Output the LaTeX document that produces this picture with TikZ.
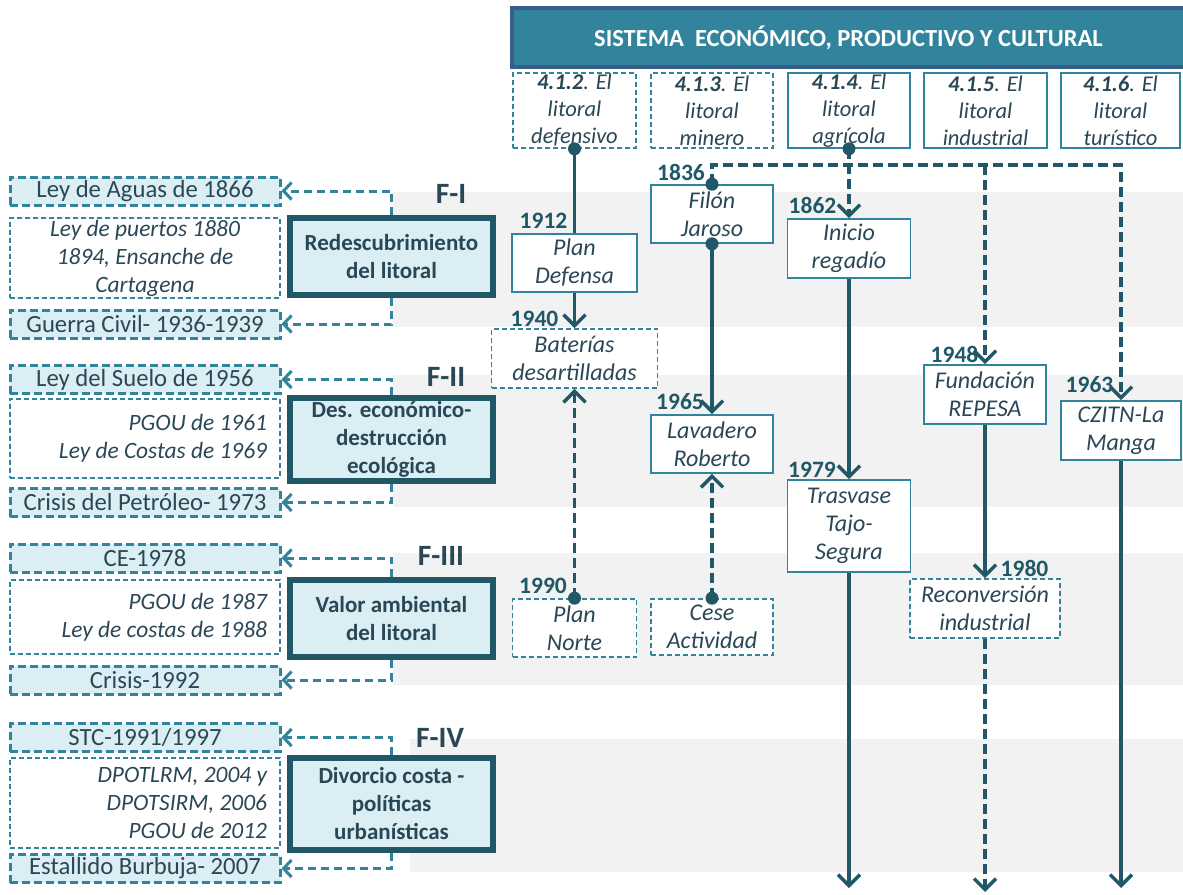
\documentclass[tikz,border=0pt]{standalone}
\usepackage{fontspec}
\setmainfont{Carlito}
\usetikzlibrary{arrows.meta}
\definecolor{tealA}{HTML}{31849B}
\definecolor{deep}{HTML}{215868}
\definecolor{pale}{HTML}{DAEEF3}
\definecolor{band}{HTML}{F2F2F2}
\definecolor{ink}{HTML}{2A4756}
\definecolor{hdrline}{HTML}{385D8A}
\tikzset{
  box/.style={draw=tealA, line width=1.6pt, fill=white, inner sep=0pt, align=center,
    text=ink, font=\fontsize{24}{28}\selectfont\itshape},
  dbox/.style={box, dash pattern=on 5pt off 3pt},
  colbox/.style={box, font=\fontsize{22.5}{27}\selectfont\itshape},
  dcolbox/.style={colbox, dash pattern=on 5pt off 3pt},
  lawbox/.style={draw=tealA, fill=pale, line width=3pt, dash pattern=on 8pt off 4pt,
    inner sep=0pt, minimum width=270pt, minimum height=28pt, text=ink,
    font=\fontsize{24.7}{28}\selectfont},
  notebox/.style={draw=tealA, line width=1.5pt, dash pattern=on 5pt off 3pt, fill=white,
    inner ysep=0pt, minimum width=270pt, text=ink, font=\fontsize{23.4}{28}\selectfont\itshape},
  phase/.style={draw=deep, fill=pale, line width=5.5pt, inner sep=0pt, minimum width=203pt,
    align=center, text=ink, font=\fontsize{23}{28}\selectfont\bfseries},
  flabel/.style={inner sep=0pt, text=ink, font=\fontsize{29.5}{29.5}\selectfont\bfseries},
  year/.style={inner sep=0pt, text=deep, font=\fontsize{23.5}{23.5}\selectfont\bfseries},
  solidlink/.style={draw=deep, line width=3.5pt, -{Straight Barb[length=11pt,width=22pt]}},
  plainlink/.style={draw=deep, line width=3.5pt},
  dashlink/.style={solidlink, dash pattern=on 10pt off 5pt},
  leftlink/.style={draw=tealA, line width=3pt, dash pattern=on 8pt off 5pt,
    -{Straight Barb[length=8pt,width=17pt]}},
  dot/.style={fill=deep}
}
\begin{document}
\begin{tikzpicture}[x=1pt,y=-1pt]
\useasboundingbox (0,0) rectangle (1183,894);
\fill[white] (0,0) rectangle (1183,894);

% alternating phase bands
\fill[band] (393,192) rectangle (1183,327);
\fill[band] (393,375) rectangle (1183,507);
\fill[band] (393,553) rectangle (1183,685);
\fill[band] (410,739) rectangle (1183,872);

% header
\node[draw=hdrline, fill=tealA, line width=4pt, minimum width=690pt, minimum height=59pt,
  inner sep=0pt, text=white, font=\fontsize{24.5}{24.5}\selectfont\bfseries]
  (header) at (857,37.5) {\hspace*{-17pt}SISTEMA\ \ ECONÓMICO, PRODUCTIVO Y CULTURAL};

% sub-system columns
\node[dcolbox, minimum width=123pt, minimum height=75pt] (c2) at (574.5,110.5)
  {\textbf{4.1.2}. El\\litoral\\defensivo};
\node[dcolbox, minimum width=122pt, minimum height=75pt] (c3) at (712,110.5)
  {\textbf{4.1.3}. El\\litoral\\minero};
\node[colbox, minimum width=122pt, minimum height=75pt] (c4) at (849,110.5)
  {\textbf{4.1.4}. El\\litoral\\agrícola};
\node[colbox, minimum width=123pt, minimum height=75pt] (c5) at (985.5,110.5)
  {\textbf{4.1.5}. El\\litoral\\industrial};
\node[colbox, minimum width=119pt, minimum height=75pt] (c6) at (1120.5,110.5)
  {\textbf{4.1.6}. El\\litoral\\turístico};

% phase F-I
\node[lawbox] (aguas) at (145,191) {Ley de Aguas de 1866};
\node[notebox, minimum height=80pt, align=center] (n1) at (145,258)
  {Ley de puertos 1880\\1894, Ensanche de\\Cartagena};
\node[lawbox] (guerra) at (145,324) {Guerra Civil- 1936-1939};
\node[phase, minimum height=77pt] (p1) at (391.5,256.5) {Redescubrimiento\\del litoral};
\node[flabel] (f1) at (451,194) {F-I};
\draw[leftlink] (p1.north) |- (aguas.east);
\draw[leftlink] (p1.south) |- (guerra.east);

% phase F-II
\node[lawbox] (suelo) at (145,379.5) {Ley del Suelo de 1956};
\node[notebox, minimum height=79pt, inner xsep=13pt, text width=244pt, align=flush right] (n2)
  at (145,438.5) {PGOU de 1961\\Ley de Costas de 1969};
\node[lawbox] (petroleo) at (145,502.5) {Crisis del Petróleo- 1973};
\node[phase, minimum height=83pt] (p2) at (391.5,439.5) {Des. económico-\\destrucción\\ecológica};
\node[flabel] (f2) at (446,377) {F-II};
\draw[leftlink] (p2.north) |- (suelo.east);
\draw[leftlink] (p2.south) |- (petroleo.east);

% phase F-III
\node[lawbox] (ce) at (145,558) {CE-1978};
\node[notebox, minimum height=74pt, inner xsep=13pt, text width=244pt, align=flush right] (n3)
  at (145,617) {PGOU de 1987\\Ley de costas de 1988};
\node[lawbox] (crisis) at (145,680) {Crisis-1992};
\node[phase, minimum height=77pt] (p3) at (391.5,618.5) {Valor ambiental\\del litoral};
\node[flabel] (f3) at (441,556) {F-III};
\draw[leftlink] (p3.north) |- (ce.east);
\draw[leftlink] (p3.south) |- (crisis.east);

% phase F-IV
\node[lawbox] (stc) at (145,737.5) {STC-1991/1997};
\node[notebox, minimum height=90pt, inner xsep=13pt, text width=244pt, align=flush right] (n4)
  at (145,803) {DPOTLRM, 2004 y\\DPOTSIRM, 2006\\PGOU de 2012};
\node[lawbox] (burbuja) at (145,868.5) {Estallido Burbuja- 2007};
\node[phase, minimum height=92pt] (p4) at (391.5,804) {Divorcio costa -\\políticas\\urbanísticas};
\node[flabel] (f4) at (440,737.5) {F-IV};
\draw[leftlink] (p4.north) |- (stc.east);
\draw[leftlink] (p4.south) |- (burbuja.east);

% events
\node[box, minimum width=125pt, minimum height=58pt] (defensa) at (574.5,263) {Plan\\Defensa};
\node[dbox, minimum width=166pt, minimum height=59pt] (baterias) at (574.5,358.5) {Baterías\\desartilladas};
\node[dbox, minimum width=124pt, minimum height=58pt] (norte) at (574.5,628) {Plan\\Norte};
\node[box, minimum width=122pt, minimum height=58pt] (filon) at (712,214) {Filón\\Jaroso};
\node[box, minimum width=122pt, minimum height=58pt] (lavadero) at (712,444) {Lavadero\\Roberto};
\node[dbox, minimum width=122pt, minimum height=56pt] (cese) at (712,627) {Cese\\Actividad};
\node[box, minimum width=123pt, minimum height=59pt] (regadio) at (849,248.5) {Inicio\\regadío};
\node[box, minimum width=123pt, minimum height=92pt] (trasvase) at (849,526) {Trasvase\\Tajo-\\Segura};
\node[box, minimum width=122pt, minimum height=59pt] (repesa) at (985,394.5) {Fundación\\REPESA};
\node[dbox, minimum width=150pt, minimum height=59pt] (reconv) at (985,608.5) {Reconversión\\industrial};
\node[box, minimum width=120pt, minimum height=59pt] (czitn) at (1121,430.5) {CZITN-La\\Manga};

% years
\node[year] (y1912) at (543.5,221) {1912};
\node[year] (y1940) at (534.5,318.5) {1940};
\node[year] (y1990) at (543,585.5) {1990};
\node[year] (y1836) at (681,172) {1836};
\node[year] (y1965) at (680,402) {1965};
\node[year] (y1862) at (812.5,205.5) {1862};
\node[year] (y1979) at (812,469.5) {1979};
\node[year] (y1948) at (954.5,354.5) {1948};
\node[year] (y1980) at (1024.5,568.5) {1980};
\node[year] (y1963) at (1089.5,384.5) {1963};

% links between events
\coordinate (rail) at (0,165);
\coordinate (endA) at (849,888);
\coordinate (endB) at (985,892);
\coordinate (endC) at (1121,888);

\draw[plainlink] (c2.south) -- (defensa.north);
\draw[solidlink] (defensa.south) -- (baterias.north);
\draw[dashlink] (norte.north) -- (baterias.south);

\draw[dashlink] (filon.north) -- (filon.north |- rail) -- (czitn.north |- rail) -- (czitn.north);
\draw[dashlink] (repesa.north |- rail) -- (repesa.north);
\draw[solidlink] (filon.south) -- (lavadero.north);
\draw[dashlink] (cese.north) -- (lavadero.south);

\draw[dashlink] (c4.south) -- (regadio.north);
\draw[solidlink] (regadio.south) -- (trasvase.north);
\draw[solidlink] (trasvase.south) -- (endA);

\draw[solidlink] (repesa.south) -- (reconv.north);
\draw[dashlink] (reconv.south) -- (endB);
\draw[solidlink] (czitn.south) -- (endC);

% start dots
\foreach \p in {c2.south, c4.south, filon.north, filon.south, norte.north, cese.north}
  \fill[dot] (\p) circle (6.5pt);
\end{tikzpicture}
\end{document}
